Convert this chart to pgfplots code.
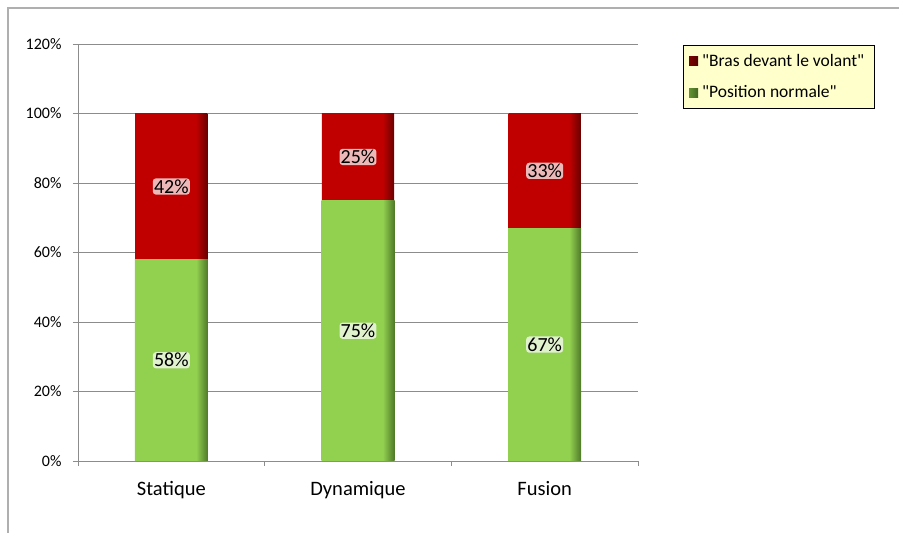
\documentclass[border=0pt]{standalone}
\usepackage{pgfplots}
\pgfplotsset{compat=1.18}
\usepackage{fontspec}
\setmainfont{Carlito}
\definecolor{barred}{RGB}{192,0,0}
\definecolor{barreddark}{RGB}{105,0,0}
\definecolor{bargreen}{RGB}{146,208,80}
\definecolor{bargreendark}{RGB}{78,120,40}
\definecolor{gridgray}{RGB}{140,140,140}
\definecolor{framegray}{RGB}{175,175,175}
\definecolor{legfill}{RGB}{255,255,204}
\pgfdeclarehorizontalshading{redbar}{100bp}{color(0bp)=(barred); color(25bp)=(barred); color(67bp)=(barred); color(75bp)=(barreddark); color(100bp)=(barreddark)}
\pgfdeclarehorizontalshading{greenbar}{100bp}{color(0bp)=(bargreen); color(25bp)=(bargreen); color(67bp)=(bargreen); color(75bp)=(bargreendark); color(100bp)=(bargreendark)}
\begin{document}
\begin{tikzpicture}
\path[use as bounding box] (0,0) rectangle (899bp,533bp);
\draw[framegray, line width=1.2bp] (8bp,0) -- (8bp,525bp) -- (899bp,525bp);
\begin{axis}[
  at={(78bp,72bp)}, anchor=south west,
  width=560bp, height=417bp, scale only axis,
  ybar, bar width=73bp, bar shift=0pt,
  xmin=-0.5, xmax=2.5, ymin=0, ymax=120,
  ytick={0,20,...,120},
  yticklabel={\pgfmathparse{int(round(\tick))}\pgfmathresult\%},
  xtick={-0.5,0.5,1.5,2.5},
  xticklabels={Statique,Dynamique,Fusion},
  x tick label as interval,
  axis x line*=bottom, axis y line*=left,
  ymajorgrids, grid style={gridgray, line width=0.8bp},
  axis line style={gridgray, line width=0.8bp},
  tick style={gridgray, line width=0.8bp},
  tick align=outside, major tick length=5bp,
  yticklabel style={font=\fontsize{16bp}{19bp}\selectfont, xshift=-8bp},
  xticklabel style={font=\fontsize{20.5bp}{24bp}\selectfont, yshift=-12bp},
  legend cell align=left,
  legend style={at={(1.080,0.998)}, anchor=north west, fill=legfill, draw=black, line width=0.6bp,
     font=\fontsize{17.5bp}{20bp}\selectfont, row sep=14bp, inner xsep=6bp, inner ysep=7bp,
     nodes={inner xsep=4bp}},
]
% red segments (drawn to 100%, green covers the lower part)
\addplot[draw=none, shading=redbar, bar width=72.2bp,
  legend image code/.code={\shade[left color=barreddark!80!barred, right color=barreddark!80!black] (0bp,-4.5bp) rectangle (9bp,4.5bp);}]
  coordinates {(0,100)};
\addplot[draw=none, shading=greenbar,
  legend image code/.code={\shade[left color=bargreendark!70!bargreen, right color=bargreendark!85!black] (0bp,-4.5bp) rectangle (9bp,4.5bp);}]
  coordinates {(0,58)};
\addplot[draw=none, shading=redbar, bar width=72.2bp, forget plot] coordinates {(1,100)};
\addplot[draw=none, shading=redbar, bar width=72.2bp, forget plot] coordinates {(2,100)};
\addplot[draw=none, shading=greenbar, forget plot] coordinates {(1,75)};
\addplot[draw=none, shading=greenbar, forget plot] coordinates {(2,67)};
% value labels at segment centres
\addplot[only marks, mark=none, forget plot, point meta=explicit symbolic,
  nodes near coords,
  every node near coord/.append style={anchor=center,
     font=\fontsize{20bp}{24bp}\selectfont, fill=white, fill opacity=0.72, text opacity=1,
     rounded corners=3bp, inner sep=1.2bp, text=black}]
  coordinates {(0,29) [58\%] (1,37.5) [75\%] (2,33.5) [67\%]
               (0,79) [42\%] (1,87.5) [25\%] (2,83.5) [33\%]};
\legend{\textquotedbl Bras devant le volant\textquotedbl, \textquotedbl Position normale\textquotedbl}
\end{axis}
\end{tikzpicture}
\end{document}
